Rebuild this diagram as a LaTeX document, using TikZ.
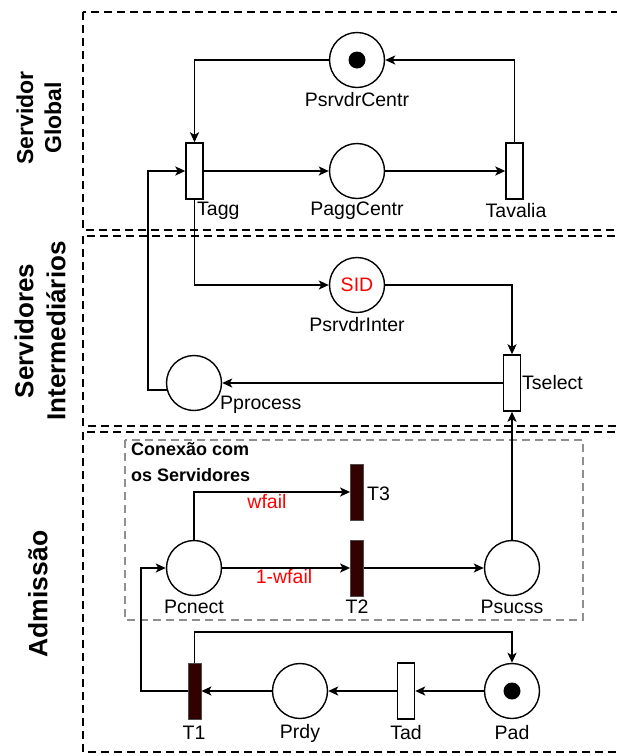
\documentclass[tikz,border=0pt]{standalone}
\usepackage{fontspec}
\setmainfont{Liberation Sans}
\usetikzlibrary{arrows.meta}
\definecolor{barfill}{HTML}{330000}
\definecolor{gboxc}{HTML}{8F8F8F}
\definecolor{redtxt}{HTML}{FF0000}
\begin{document}
\begin{tikzpicture}[x=1pt,y=-1pt,
  zone/.style={line width=2.4pt, dash pattern=on 8pt off 5pt},
  gzone/.style={line width=2.2pt, draw=gboxc, dash pattern=on 8pt off 5pt},
  place/.style={circle, draw, line width=1.4pt, minimum size=55pt, inner sep=0pt},
  trans/.style={rectangle, draw, line width=1.4pt, minimum width=17pt, minimum height=56pt, inner sep=0pt, fill=white},
  bartr/.style={rectangle, draw=black!70, line width=0.8pt, fill=barfill, minimum width=13pt, minimum height=56pt, inner sep=0pt},
  tok/.style={circle, fill=black, minimum size=17pt, inner sep=0pt},
  lbl/.style={font=\fontsize{19.5}{23}\selectfont, inner sep=0pt},
  rlbl/.style={lbl, text=redtxt},
  side/.style={rotate=90, align=center, inner sep=0pt},
  arr/.style={line width=1.8pt, -{Stealth[length=10pt,width=9pt,inset=2.5pt]}},
  ln/.style={line width=1.8pt}]
\useasboundingbox (0,0) rectangle (617,756);
\begin{scope}
\clip (0,0) rectangle (617,756);
\draw[zone] (83,12) rectangle (640,230);
\draw[zone] (83,236) rectangle (640,426);
\draw[zone] (83,432) rectangle (640,752);
\end{scope}
\draw[gzone] (125,440) rectangle (583,620);

% side labels
\node[side, font=\bfseries\fontsize{23}{28}\selectfont] (sg) at (39,118) {Servidor\\Global};
\node[side, font=\bfseries\fontsize{26}{32}\selectfont] (si) at (40,331) {Servidores\\Intermediários};
\node[side, font=\bfseries\fontsize{26.5}{32}\selectfont] (sa) at (38,594) {Admissão};

% top zone
\node[place] (pc) at (357,60) {};
\node[tok] (pctok) at (357,60) {};
\node[trans] (tagg) at (194.5,171) {};
\node[place] (pag) at (357,171) {};
\node[trans] (tav) at (514.5,171) {};
\node[lbl] (lpc) at (357,100) {PsrvdrCentr};
\node[lbl, anchor=west] (ltagg) at (197,211) {Tagg};
\node[lbl] (lpag) at (357,211) {PaggCentr};
\node[lbl] (ltav) at (516,211) {Tavalia};

% middle zone
\node[place] (pi) at (357,285) {};
\node[rlbl] (sid) at (357,285) {SID};
\node[lbl] (lpi) at (357,325) {PsrvdrInter};
\node[trans] (tsel) at (512,383) {};
\node[lbl, anchor=west] (ltsel) at (522,383) {Tselect};
\node[place] (ppro) at (194,383) {};
\node[lbl, anchor=west] (lppro) at (220,405) {Pprocess};
\coordinate (lft) at (148,300);

% bottom zone
\node[lbl, anchor=north west, align=left, font=\bfseries\fontsize{18}{26}\selectfont] (conx) at (131,442) {Conexão com\\os Servidores};
\node[place] (pcn) at (194,568) {};
\node[bartr] (t3) at (357,492) {};
\node[bartr] (t2) at (357,568) {};
\node[place] (psu) at (512,568) {};
\node[rlbl] (lwf) at (267,502) {wfail};
\node[rlbl] (l1wf) at (284,577) {1-wfail};
\node[lbl, anchor=west] (lt3) at (367,494) {T3};
\node[lbl] (lpcn) at (194,607) {Pcnect};
\node[lbl] (lt2) at (357,607) {T2};
\node[lbl] (lpsu) at (512,607) {Psucss};

\node[bartr] (t1) at (194.5,691) {};
\node[place] (prdy) at (300,691) {};
\node[trans] (tad) at (406,691) {};
\node[place] (pad) at (512,691) {};
\node[tok] (padtok) at (512,691) {};
\node[lbl] (lt1) at (194,733) {T1};
\node[lbl] (lprdy) at (300,733) {Prdy};
\node[lbl] (ltad) at (406,733) {Tad};
\node[lbl] (lpad) at (512,733) {Pad};
\coordinate (rt) at (300,632);
\coordinate (lb) at (141,620);

% arcs top
\draw[arr] (pc.west) -| (tagg.north);
\draw[arr] (tav.north) |- (pc.east);
\draw[arr] (tagg.east) -- (pag.west);
\draw[arr] (pag.east) -- (tav.west);
% arcs middle
\draw[arr] (tagg.south) |- (pi.west);
\draw[arr] (pi.east) -| (tsel.north);
\draw[arr] (tsel.west) -- (ppro.east);
\draw[arr] (ppro.195) -- (ppro.195 -| lft) |- (tagg.west);
% arcs bottom
\draw[arr] (psu.north) -- (tsel.south);
\draw[arr] (pcn.north) |- (t3.west);
\draw[arr] (pcn.east) -- (t2.west);
\draw[arr] (t2.east) -- (psu.west);
\draw[arr] (pad.west) -- (tad.east);
\draw[arr] (tad.west) -- (prdy.east);
\draw[arr] (prdy.west) -- (t1.east);
\draw[arr] (t1.north) |- (rt) -| (pad.north);
\draw[arr] (t1.west) -- (t1.west -| lb) |- (pcn.west);
\end{tikzpicture}
\end{document}
